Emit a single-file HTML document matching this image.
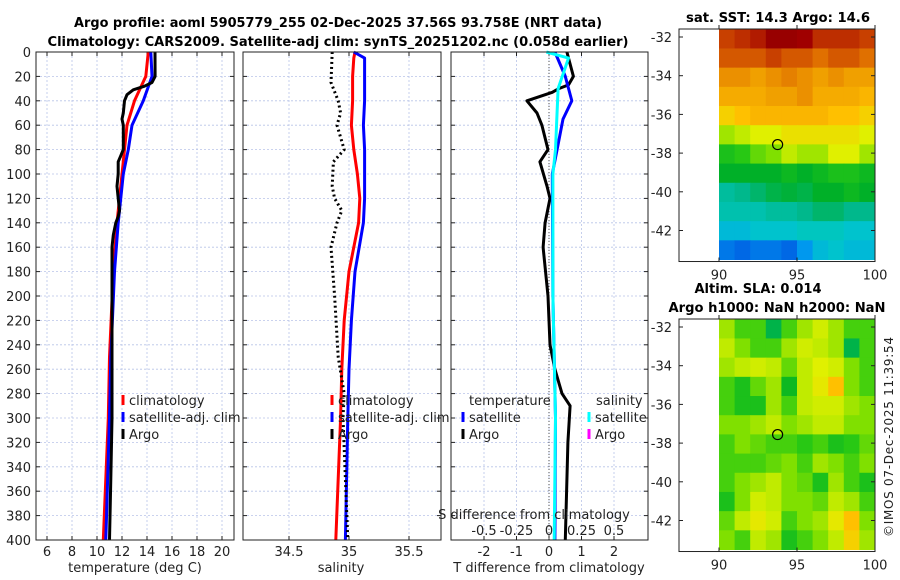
<!DOCTYPE html>
<html><head><meta charset="utf-8"><style>
body{margin:0;background:#fff}
svg{display:block;font-family:"DejaVu Sans","Liberation Sans",sans-serif}
</style></head><body>
<svg id="fig" width="900" height="580" viewBox="0 0 900 580">
<text x="338" y="27" text-anchor="middle" font-size="13" font-weight="bold" textLength="528" lengthAdjust="spacingAndGlyphs">Argo profile: aoml 5905779_255 02-Dec-2025 37.56S 93.758E (NRT data)</text>
<text x="338" y="46" text-anchor="middle" font-size="13" font-weight="bold" textLength="581" lengthAdjust="spacingAndGlyphs">Climatology: CARS2009. Satellite-adj clim: synTS_20251202.nc (0.058d earlier)</text>
<text x="778" y="22" text-anchor="middle" font-size="13" font-weight="bold" textLength="184" lengthAdjust="spacingAndGlyphs">sat. SST: 14.3 Argo: 14.6</text>
<text x="758" y="293" text-anchor="middle" font-size="13" font-weight="bold" textLength="127" lengthAdjust="spacingAndGlyphs">Altim. SLA: 0.014</text>
<text x="777" y="312" text-anchor="middle" font-size="13" font-weight="bold" textLength="217" lengthAdjust="spacingAndGlyphs">Argo h1000: NaN h2000: NaN</text>
<text transform="translate(893,437) rotate(-90)" text-anchor="middle" font-size="12" fill="#222" textLength="200">©IMOS 07-Dec-2025 11:39:54</text>
<g id="layer"></g>
</svg>
<script>
// ---- data ----
const depthTicks=[0,20,40,60,80,100,120,140,160,180,200,220,240,260,280,300,320,340,360,380,400];
const tempTicks=[6,8,10,12,14,16,18,20];
const salTicks=[34.5,35,35.5];
const dTTicks=[-2,-1,0,1,2];
const argoTDepth=[0,20,25,28,31,35,40,50,55,60,80,85,90,100,110,120,130,135,140,150,160,180,200,250,300,350,400];
const argoT=[14.64,14.65,14.4,13.8,12.9,12.4,12.2,12.1,12.0,12.1,12.1,11.9,11.7,11.7,11.6,11.7,11.8,11.7,11.5,11.3,11.2,11.2,11.2,11.2,11.2,11.1,11.0];
const climDepth=[0,20,40,60,80,100,140,180,250,300,400];
const climT=[14.1,13.9,13.0,12.4,12.2,12.0,11.6,11.3,11.0,10.9,10.5];
const satT=[14.3,14.4,13.7,12.8,12.5,12.1,11.7,11.4,11.1,11.0,10.7];
const salDepth=[0,5,20,40,60,80,100,120,140,180,220,260,300,400];
const climS=[35.05,35.04,35.03,35.03,35.02,35.04,35.07,35.09,35.08,35.0,34.96,34.94,34.93,34.89];
const satS=[35.04,35.13,35.13,35.13,35.12,35.13,35.13,35.13,35.12,35.05,35.02,35.0,34.99,34.97];
const argoSDepth=[0,25,40,50,60,80,90,110,120,130,140,160,200,250,280,300,400];
const argoS=[34.86,34.85,34.91,34.93,34.9,34.96,34.87,34.86,34.88,34.94,34.9,34.85,34.88,34.91,34.96,34.95,34.99];
const diffDepth=[0,20,27,30,33,40,50,60,80,90,110,120,140,160,200,240,260,280,290,320,400];
const argoDT=[0.55,0.75,0.6,0.3,0.1,-0.68,-0.37,-0.22,-0.03,-0.28,-0.06,0.03,-0.12,-0.18,-0.03,0.03,0.18,0.4,0.65,0.58,0.5];
const satDDepth=[0,20,40,55,80,100,200,300,400];
const satDT=[0.18,0.5,0.7,0.43,0.25,0.1,0.12,0.2,0.18];
const sDDepth=[0,5,30,80,100,200,300,400];
const satDS=[-0.02,0.15,0.07,0.05,0.03,0.03,0.05,0.04];
const sstGrid=[
[0.88,0.9,0.92,0.97,0.97,0.95,0.9,0.9,0.9,0.88],
[0.85,0.85,0.85,0.88,0.85,0.85,0.82,0.85,0.85,0.82],
[0.78,0.78,0.76,0.78,0.8,0.78,0.76,0.78,0.76,0.76],
[0.74,0.74,0.74,0.76,0.76,0.78,0.74,0.74,0.74,0.72],
[0.68,0.7,0.72,0.72,0.72,0.72,0.72,0.7,0.7,0.68],
[0.6,0.62,0.64,0.64,0.66,0.66,0.66,0.66,0.66,0.64],
[0.5,0.52,0.56,0.58,0.62,0.6,0.6,0.64,0.64,0.6],
[0.46,0.46,0.46,0.46,0.48,0.46,0.48,0.5,0.5,0.48],
[0.38,0.4,0.42,0.44,0.45,0.44,0.46,0.46,0.48,0.46],
[0.36,0.36,0.36,0.38,0.38,0.4,0.42,0.42,0.4,0.4],
[0.3,0.3,0.32,0.32,0.32,0.34,0.34,0.34,0.32,0.32],
[0.2,0.18,0.2,0.2,0.18,0.24,0.3,0.32,0.3,0.3]];
const slaGrid=[
[.6,.54,.54,.44,.54,.6,.63,.6,.54,.54],
[.62,.58,.54,.54,.6,.63,.62,.6,.44,.54],
[.6,.62,.63,.62,.56,.62,.64,.63,.58,.54],
[.54,.5,.56,.6,.48,.62,.65,.7,.58,.54],
[.54,.5,.5,.6,.54,.62,.63,.63,.6,.58],
[.58,.58,.6,.62,.58,.6,.62,.62,.58,.58],
[.54,.58,.56,.54,.54,.52,.54,.5,.52,.56],
[.54,.54,.54,.56,.58,.54,.6,.58,.54,.58],
[.54,.58,.6,.62,.58,.56,.5,.6,.54,.5],
[.5,.58,.63,.62,.58,.58,.56,.62,.6,.54],
[.56,.62,.65,.63,.54,.58,.6,.65,.7,.58],
[.58,.54,.62,.6,.5,.54,.58,.62,.68,.6]];
const latTicks=[-32,-34,-36,-38,-40,-42];
const lonTicks=[90,95,100];
const argoLon=93.758, argoLat=-37.56;

// ---- helpers ----
const NS="http://www.w3.org/2000/svg";
const L=document.getElementById('layer');
function el(t,a,p){const e=document.createElementNS(NS,t);for(const k in a)e.setAttribute(k,a[k]);(p||L).appendChild(e);return e;}
const Y=d=>52+d*1.22;
const xT=t=>47+(t-6)*12.5;
const xS=s=>289+(s-34.5)*120;
const xD=d=>549+d*32.5;
const xDS=s=>549+s*130;
const panels=[[36,234],[243,441],[451,648]];

panels.forEach((p,i)=>{
  depthTicks.forEach(d=>{
    const g=el('line',{x1:p[0],x2:p[1],y1:Y(d),y2:Y(d),stroke:'#b8c4e8','stroke-width':0.8,'stroke-dasharray':'2,2'});
    
    
    el('line',{x1:p[0],x2:p[0]+4,y1:Y(d),y2:Y(d),stroke:'#222'});
    el('line',{x1:p[1]-4,x2:p[1],y1:Y(d),y2:Y(d),stroke:'#222'});
  });
});
function vgrid(ticks,fx,p){
  ticks.forEach((t,j)=>{
    const x=fx(t);
    const g=el('line',{x1:x,x2:x,y1:52,y2:540,stroke:'#b8c4e8','stroke-width':0.8,'stroke-dasharray':'2,2'});
    
    
    el('line',{x1:x,x2:x,y1:536,y2:540,stroke:'#222'});
    el('line',{x1:x,x2:x,y1:52,y2:56,stroke:'#222'});
    const tx=el('text',{x:x,y:556,'text-anchor':'middle','font-size':13,fill:'#222'});tx.textContent=String(t);
    
    
  });
}
vgrid(tempTicks,xT,panels[0]);
vgrid(salTicks,xS,panels[1]);
vgrid(dTTicks,xD,panels[2]);
el('line',{x1:549,x2:549,y1:52,y2:540,stroke:'#555','stroke-width':1,'stroke-dasharray':'1,2'});
depthTicks.forEach(d=>{
  const t=el('text',{x:31,y:Y(d)+5,'text-anchor':'end','font-size':13,fill:'#222'});t.textContent=d;
  
  
});
[['temperature (deg C)',135],['salinity',341],['T difference from climatology',549]].forEach(a=>{
  const t=el('text',{x:a[1],y:572,'text-anchor':'middle','font-size':13,fill:'#222'});t.textContent=a[0];
  
  
});

function line(xs,ds,fx,col,w,dash,name){
  const pts=xs.map((v,i)=>fx(v).toFixed(1)+','+Y(ds[i]).toFixed(1)).join(' ');
  const a={points:pts,fill:'none',stroke:col,'stroke-width':w,'stroke-linejoin':'round'};
  if(dash)a['stroke-dasharray']=dash;
  const p=el('polyline',a);
  
  
}
line(climT,climDepth,xT,'#f00',3,null,'climatology-temp-line');
line(satT,climDepth,xT,'#00f',3,null,'satellite-temp-line');
line(argoT,argoTDepth,xT,'#000',3,null,'argo-temp-line');
line(climS,salDepth,xS,'#f00',3,null,'climatology-sal-line');
line(satS,salDepth,xS,'#00f',3,null,'satellite-sal-line');
line(argoS,argoSDepth,xS,'#000',3,'2,3','argo-sal-line');
line(argoDT,diffDepth,xD,'#000',3,null,'argo-tdiff-line');
line(satDT,satDDepth,xD,'#00f',3,null,'satellite-tdiff-line');
line(satDS,sDDepth,xDS,'#0ff',3,null,'satellite-sdiff-line');

panels.forEach(p=>{const r=el('rect',{x:p[0],y:52,width:p[1]-p[0],height:488,fill:'none',stroke:'#222'});
  
  });

function legend(x,y,col,label){
  el('line',{x1:x,x2:x,y1:y-10,y2:y,stroke:col,'stroke-width':3});
  const t=el('text',{x:x+6,y:y,'font-size':13,fill:'#222'});t.textContent=label;
  
  
}
legend(123,405,'#f00','climatology');legend(123,422,'#00f','satellite-adj. clim');legend(123,439,'#000','Argo');
legend(332,405,'#f00','climatology');legend(332,422,'#00f','satellite-adj. clim');legend(332,439,'#000','Argo');
legend(463,422,'#00f','satellite');legend(463,439,'#000','Argo');
legend(589,422,'#0ff','satellite');legend(589,439,'#f0f','Argo');
[['temperature',469,405],['salinity',596,405]].forEach(a=>{const t=el('text',{x:a[1],y:a[2],'font-size':13,fill:'#222'});t.textContent=a[0];
  });
{const t=el('text',{x:534,y:519,'text-anchor':'middle','font-size':13,fill:'#222'});t.textContent='S difference from climatology';
 }
[-0.5,-0.25,0,0.25,0.5].forEach(s=>{const t=el('text',{x:xDS(s),y:535,'text-anchor':'middle','font-size':13,fill:'#222'});
 t.textContent=(s===0?'0':String(s));
 });

const stops=[[0,[0,0,140]],[0.15,[0,80,224]],[0.25,[0,160,240]],[0.33,[0,200,200]],[0.4,[0,184,140]],[0.46,[0,176,40]],[0.52,[40,200,20]],[0.58,[128,224,0]],[0.64,[224,240,0]],[0.7,[255,192,0]],[0.76,[240,160,0]],[0.82,[224,112,0]],[0.88,[200,64,0]],[0.95,[160,0,0]],[1,[140,0,0]]];
function cmap(v){for(let i=1;i<stops.length;i++){if(v<=stops[i][0]){const a=stops[i-1],b=stops[i],f=(v-a[0])/(b[0]-a[0]);return 'rgb('+a[1].map((c,k)=>Math.round(c+(b[1][k]-c)*f)).join(',')+')';}}return 'rgb(140,0,0)';}

function map(grid,top,lat32,name){
  const xL=o=>719+(o-90)*15.6;
  const yL=a=>lat32+(-32-a)*19.35;
  const latTop=-31.6, latBot=-43.5, rows=grid.length, dl=(latTop-latBot)/rows;
  grid.forEach((row,r)=>row.forEach((v,c)=>{
    const y0=yL(latTop-r*dl), y1=yL(latTop-(r+1)*dl);
    const cell=el('rect',{x:xL(90+c),y:y0,width:xL(91+c)-xL(90+c)+0.5,height:y1-y0+0.5,fill:cmap(v)});
    
    
  }));
  const fr=el('rect',{x:679,y:top,width:196,height:yL(-43.5)-top+2,fill:'none',stroke:'#222'});
  
  
  const bot=yL(-43.5)+2;
  latTicks.forEach(a=>{
    el('line',{x1:679,x2:683,y1:yL(a),y2:yL(a),stroke:'#222'});
    el('line',{x1:871,x2:875,y1:yL(a),y2:yL(a),stroke:'#222'});
    const t=el('text',{x:672,y:yL(a)+5,'text-anchor':'end','font-size':13,fill:'#222'});t.textContent=a;
    
  });
  lonTicks.forEach(o=>{
    el('line',{x1:xL(o),x2:xL(o),y1:bot-4,y2:bot,stroke:'#222'});
    el('line',{x1:xL(o),x2:xL(o),y1:top,y2:top-4,stroke:'#222'});
    const t=el('text',{x:xL(o),y:bot+18,'text-anchor':'middle','font-size':13,fill:'#222'});t.textContent=o;
    
  });
  const c=el('circle',{cx:xL(argoLon),cy:yL(argoLat),r:5,fill:'none',stroke:'#000','stroke-width':1.2});
  
  
}
map(sstGrid,29,37,'sst-map');
map(slaGrid,319,327,'sla-map');
</script>
</body></html>
